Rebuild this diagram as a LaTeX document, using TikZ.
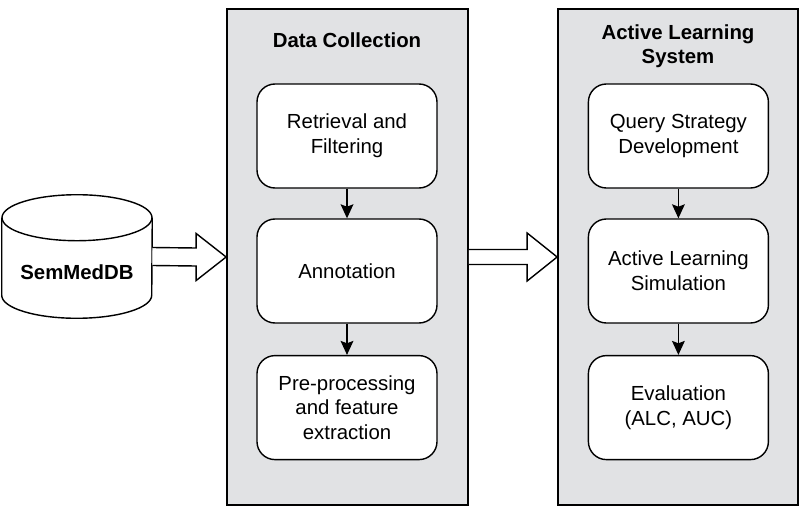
\documentclass[tikz,border=0pt]{standalone}
\usepackage{fontspec}
\setmainfont{Liberation Sans}
\usetikzlibrary{arrows.meta,calc,positioning}
\definecolor{colorpanel}{HTML}{E1E2E4}
\newcommand\figfont{\fontsize{14.5}{17.5}\selectfont}
\tikzset{panel/.style={draw, fill=colorpanel, line width=1.2pt, minimum width=6cm, minimum height=12.4cm, inner sep=0}}
\tikzset{task/.style={draw, fill=white, line width=1pt, rounded corners=4.5mm, minimum width=4.5cm, minimum height=2.6cm, align=center, inner sep=1mm}}
\tikzset{title/.style={font=\figfont\bfseries, align=center, inner sep=0}}
\tikzset{dbbody/.style={draw=none, minimum width=3.75cm, minimum height=1.925cm, inner sep=0}}
\tikzset{dbline/.style={black, line width=1pt}}
\tikzset{
  edgeflow/.style={black, line width=0.9pt, -{Stealth[length=3.5mm,width=3.2mm,inset=0.6mm]}},
  edgebig/.style={draw, fill=white, line width=1pt, line join=miter}
}

\begin{document}
\begin{tikzpicture}[font=\figfont]
\useasboundingbox (0,0) rectangle (20,-12.7);

\node[panel, minimum width=6.025cm](dc) at (8.6875,-6.425) {};
\node[panel](al) at (16.95,-6.425) {};

\node[title](dct) at (8.675,-1.0) {Data Collection};
\node[title](alt) at (16.95,-1.16) {Active Learning\\System};

\node[task](rf) at (8.675,-3.4) {Retrieval and\\Filtering};
\node[task](an) at (8.675,-6.775) {Annotation};
\node[task](pp) at (8.675,-10.19) {Pre-processing\\and feature\\extraction};

\node[task](qs) at (16.96,-3.4) {Query Strategy\\Development};
\node[task](sim) at (16.96,-6.775) {Active Learning\\Simulation};
\node[task](ev) at (16.96,-10.19) {Evaluation\\(ALC, AUC)};

% database cylinder
\node[dbbody](db) at (1.925,-6.4125) {};
\draw[dbline] (db.north west) -- (db.south west)
  arc[start angle=180, end angle=360, x radius=1.875cm, y radius=0.575cm]
  -- (db.north east);
\draw[dbline] (db.north) ellipse[x radius=1.875cm, y radius=0.575cm];
\node[title](dbt) at ($(db.center)+(0,-0.39)$) {SemMedDB};

% block arrows between the stages
\draw[edgebig] ($(db.east)+(0,0.225)$) -- ($(dc.west)+(-0.75,0.225)$)
  -- ($(dc.west)+(-0.75,0.5875)$) -- (dc.west)
  -- ($(dc.west)+(-0.75,-0.5875)$) -- ($(dc.west)+(-0.75,-0.225)$)
  -- ($(db.east)+(0,-0.225)$);

\draw[edgebig] ($(dc.east)+(0,0.1875)$) -- ($(al.west)+(-0.75,0.1875)$)
  -- ($(al.west)+(-0.75,0.6)$) -- (al.west)
  -- ($(al.west)+(-0.75,-0.6)$) -- ($(al.west)+(-0.75,-0.1875)$)
  -- ($(dc.east)+(0,-0.1875)$);

\draw[edgeflow] (rf) -- (an);
\draw[edgeflow] (an) -- (pp);
\draw[edgeflow] (qs) -- (sim);
\draw[edgeflow] (sim) -- (ev);
\end{tikzpicture}
\end{document}
